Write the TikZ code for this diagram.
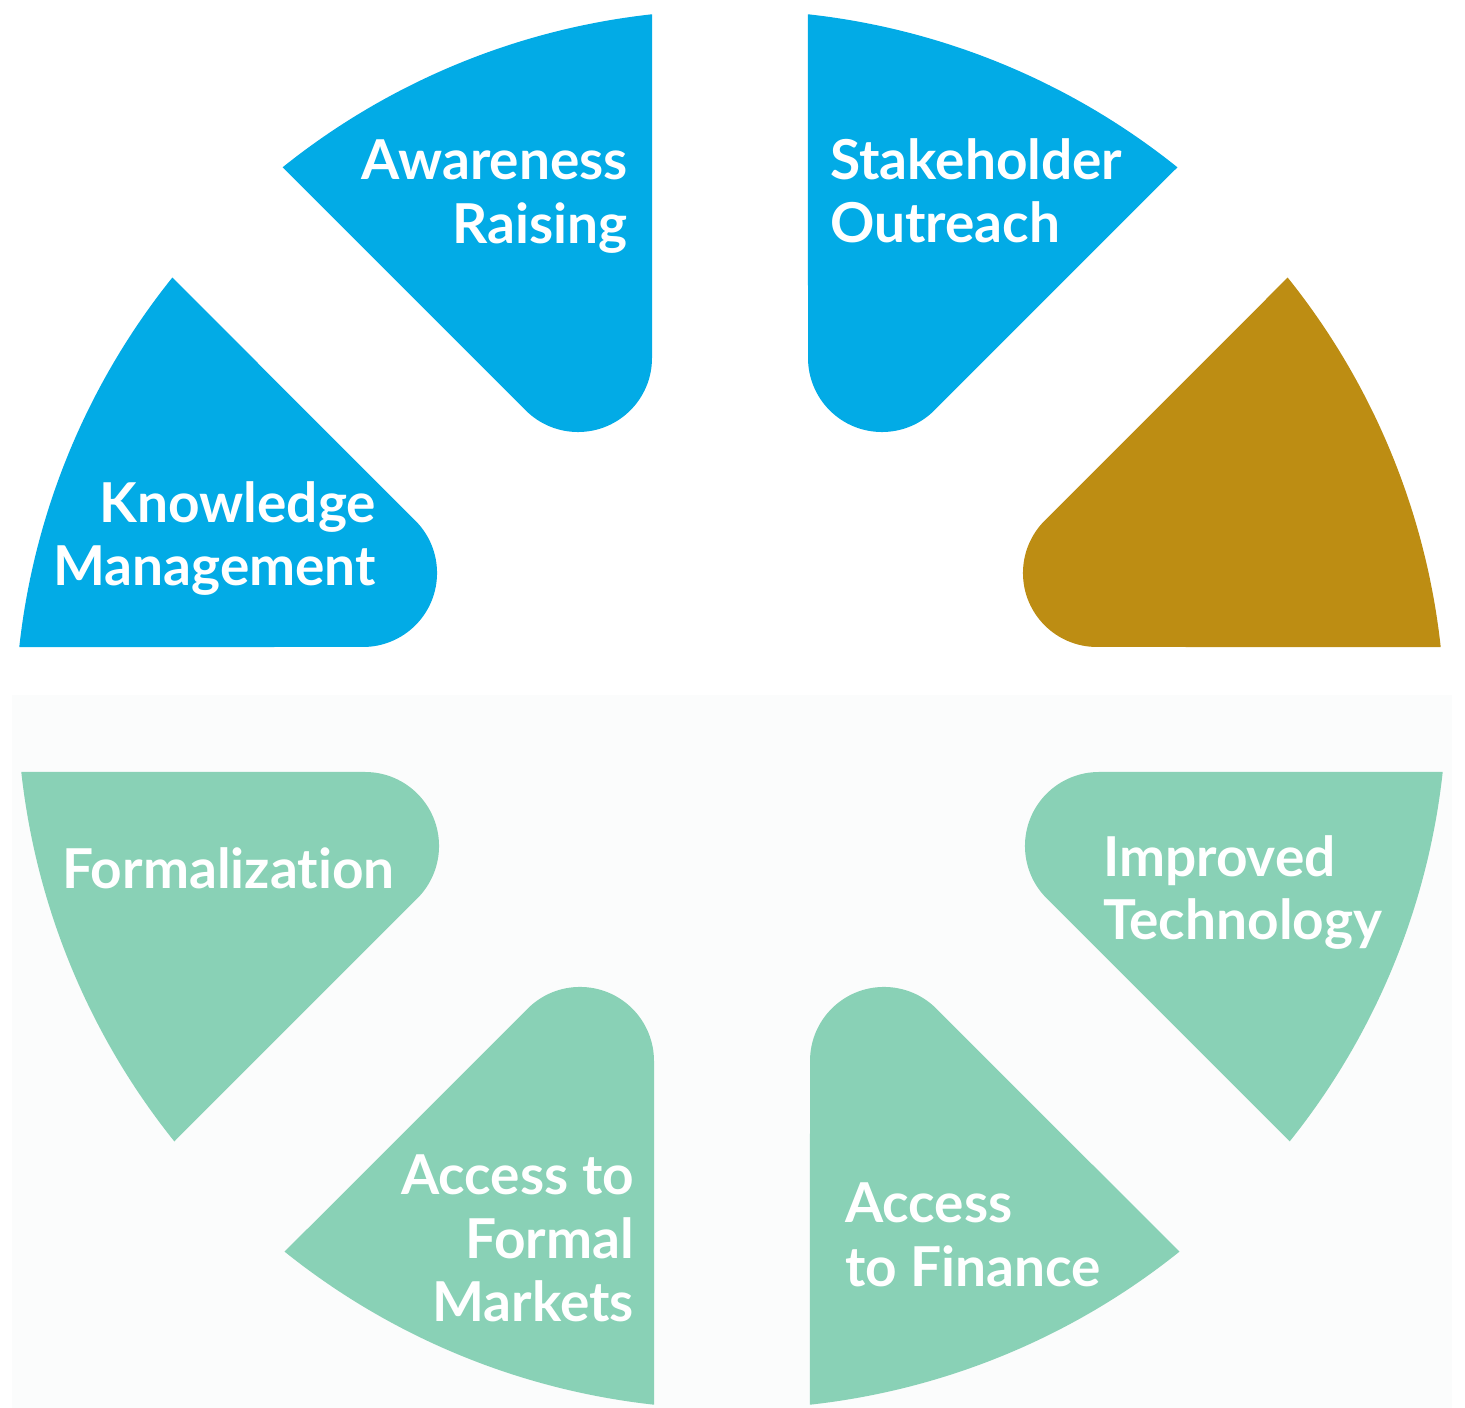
\documentclass[tikz,border=0pt]{standalone}
\usepackage{fontspec}
\setmainfont{Lato}[Ligatures=NoCommon]
\usetikzlibrary{positioning}

\definecolor{segblue}{HTML}{02ABE6}
\definecolor{seggold}{HTML}{BD8D13}
\definecolor{seggreen}{HTML}{89D1B6}
\definecolor{halfbg}{HTML}{FBFCFC}

% one segment with a rounded inner tip: bisector angle, colour
\newcommand{\petal}[2]{%
  \fill[#2] (#1+10.5:375.16) -- (#1+16.24:715)
    arc[start angle=#1+16.24, end angle=#1-16.24, radius=715pt]
    -- (#1-10.5:375.16)
    arc[start angle=#1+247.5, end angle=#1+112.5, radius=74pt] -- cycle;}

\begin{document}
\begin{tikzpicture}[x=1pt,y=1pt,
    seglabel/.style={text=white, inner sep=0pt,
      font=\bfseries\fontsize{55}{63.5}\selectfont}]
  \useasboundingbox (0,0) rectangle (1465,1408);
  \fill[halfbg] (12,0) rectangle (1452,713);

  % upper half
  \begin{scope}[shift={(730,683)}]
    \petal{22.5}{seggold}
    \petal{67.5}{segblue}
    \petal{112.5}{segblue}
    \petal{157.5}{segblue}
  \end{scope}
  % lower half
  \begin{scope}[shift={(732,714)}]
    \petal{202.5}{seggreen}
    \petal{247.5}{seggreen}
    \petal{292.5}{seggreen}
    \petal{337.5}{seggreen}
  \end{scope}

  \node[seglabel, align=right, anchor=north east] (aware) at (628,1268) {Awareness\\Raising};
  \node[seglabel, align=left, anchor=north west] (stake) at (830,1270) {Stakeholder\\Outreach};
  \node[seglabel, align=right, anchor=north east] (know) at (376,927) {Knowledge\\Management};
  \node[seglabel, align=left, anchor=north west] (formal) at (62,561) {Formalization};
  \node[seglabel, align=left, anchor=north west] (tech) at (1103,573) {Improved\\Technology};
  \node[seglabel, align=right, anchor=north east] (markets) at (634,253) {Access to\\Formal\\Markets};
  \node[seglabel, align=left, anchor=north west] (finance) at (845,225) {Access\\to Finance};
\end{tikzpicture}
\end{document}
